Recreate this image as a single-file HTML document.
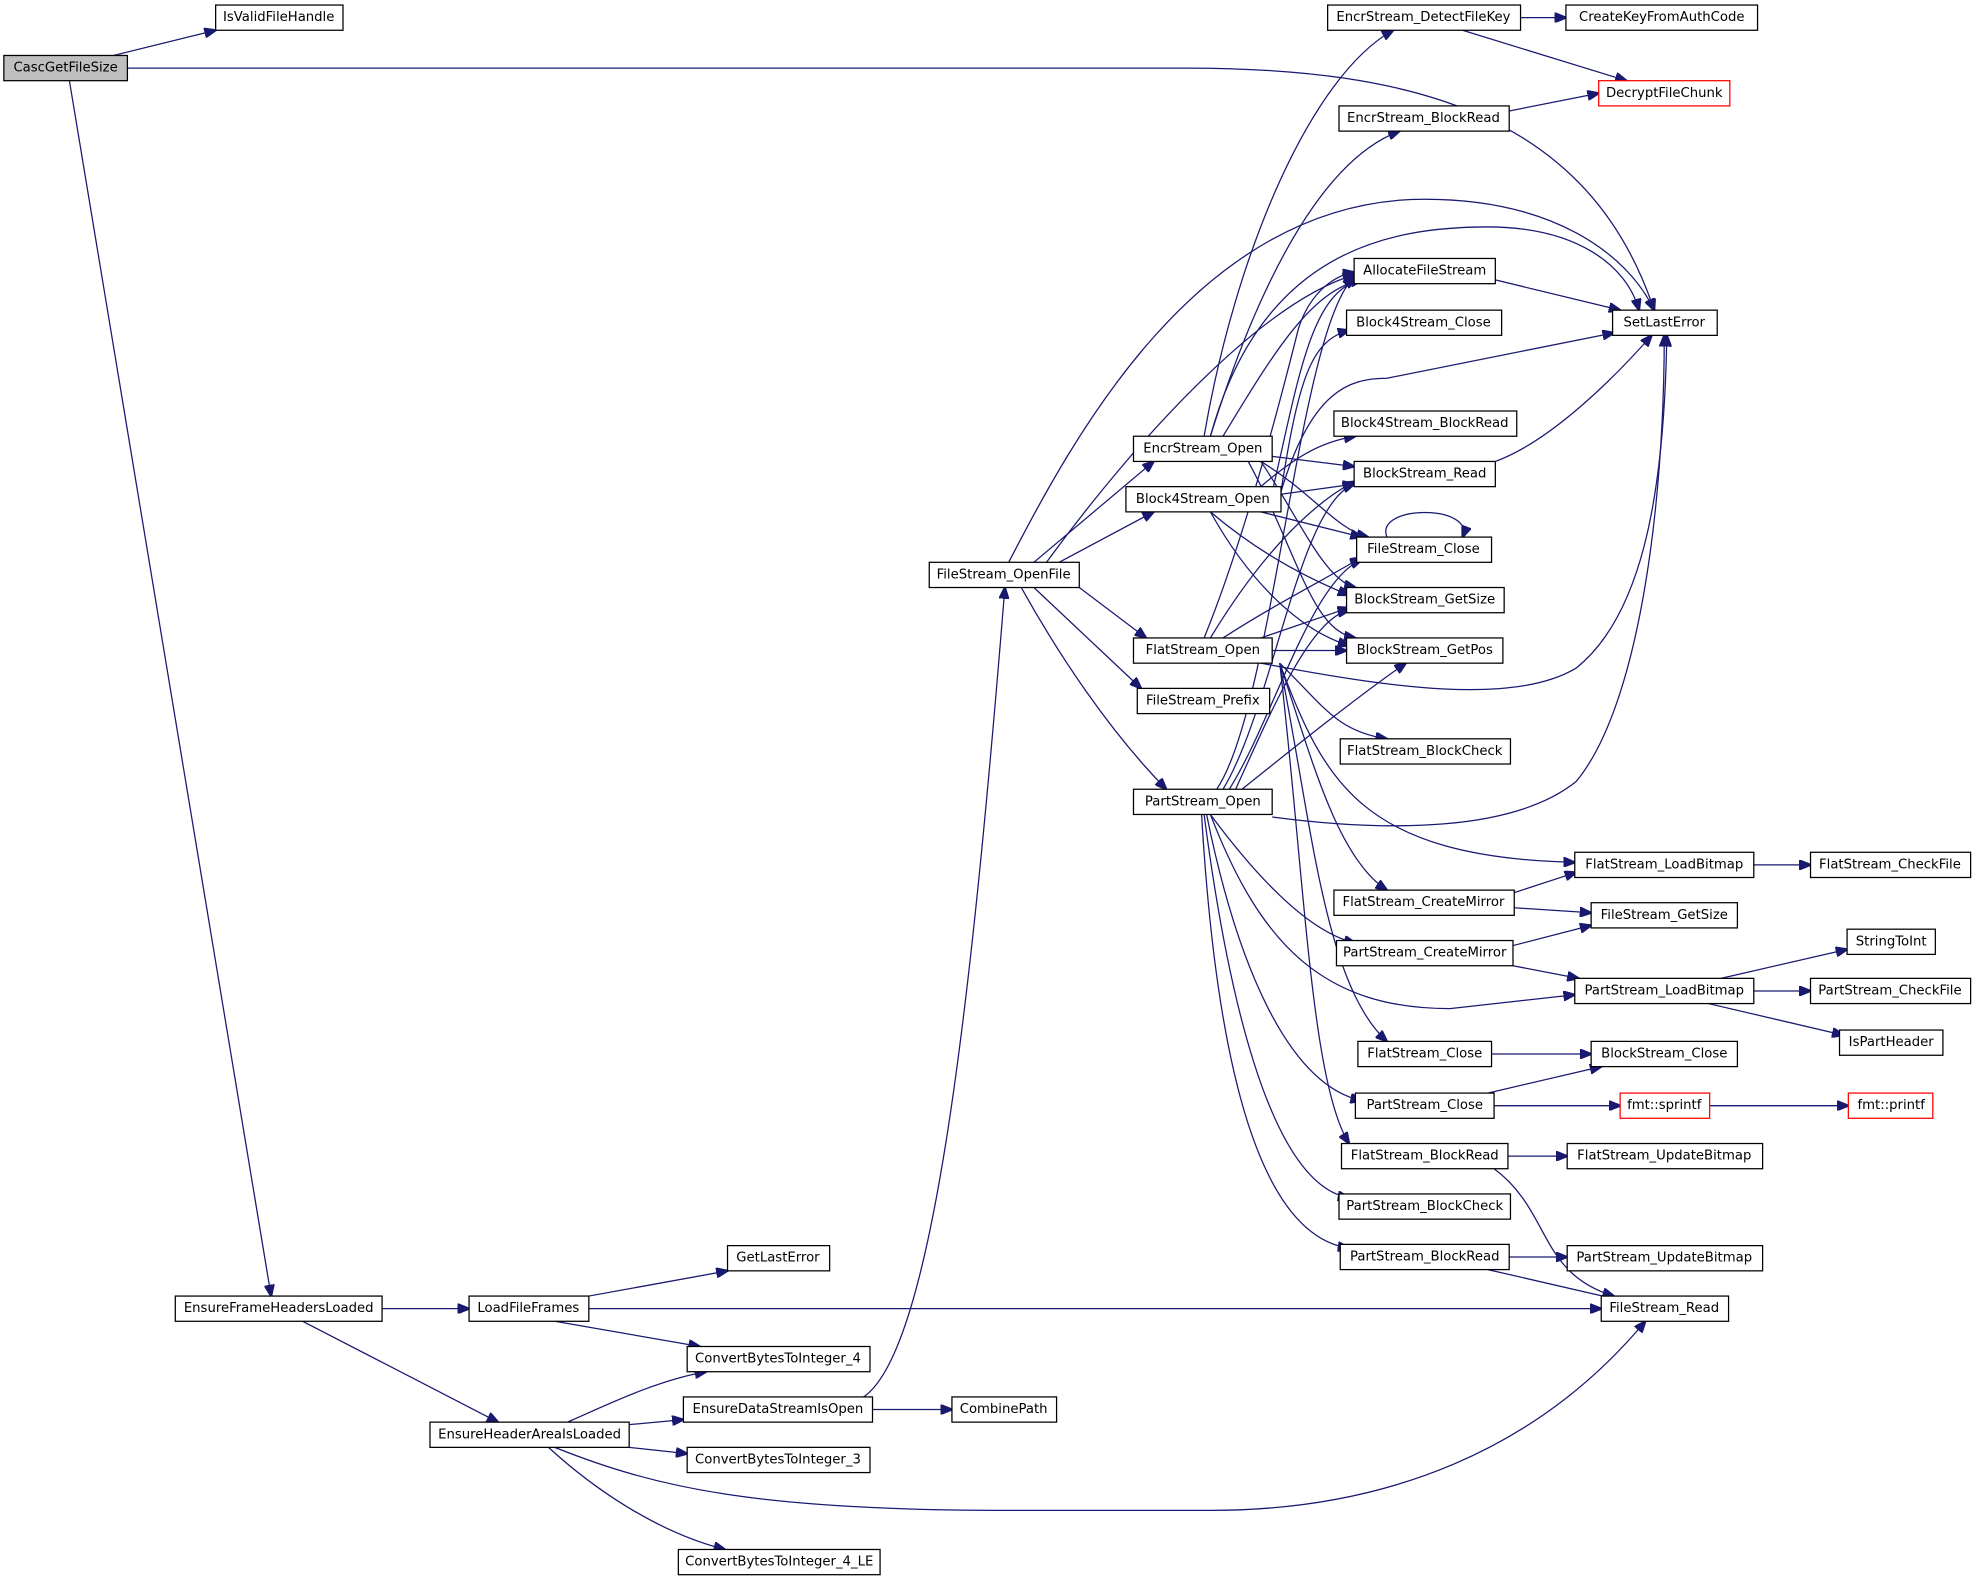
<!DOCTYPE html>
<html><head><meta charset="utf-8"><style>
html,body{margin:0;padding:0;background:#fff;}
svg{display:block;}
text{font-family:"DejaVu Sans","Liberation Sans",sans-serif;font-size:10.5px;fill:#000;text-anchor:middle;dominant-baseline:central;}
.n{fill:#fff;stroke:#000;stroke-width:1;}
.g{fill:#bfbfbf;}
.r{stroke:#f00;}
path{fill:none;stroke:#191970;stroke-width:1;}
</style></head><body>
<svg width="1977" height="1581" viewBox="0 0 1568 1254" xmlns="http://www.w3.org/2000/svg">
<defs><marker id="a" markerWidth="10" markerHeight="8" refX="9" refY="4" orient="auto" markerUnits="userSpaceOnUse"><path d="M0,0 L10,4 L0,8 Z" style="fill:#191970;stroke:#191970"/></marker></defs>
<g marker-end="url(#a)">
<path d="M90,44 L171,24"/>
<path d="M101,54 L940,54 C1120,54 1260,90 1312,246"/>
<path d="M55,64 L215,1028"/>
<path d="M303,1038 L372,1038"/>
<path d="M240,1048 L395,1128"/>
<path d="M467,1028 L577,1008"/>
<path d="M440,1048 L555,1068"/>
<path d="M467,1038 L1270,1038"/>
<path d="M450,1128 C480,1115 520,1095 560,1088"/>
<path d="M499,1130 L542,1126"/>
<path d="M499,1148 L545,1153"/>
<path d="M435,1148 C470,1180 520,1215 575,1229"/>
<path d="M440,1148 C520,1180 600,1198 800,1198 L960,1198 C1100,1198 1220,1150 1305,1048"/>
<path d="M692,1118 L755,1118"/>
<path d="M685,1108 C740,1070 770,800 797,466"/>
<path d="M820,446 L915,366"/>
<path d="M840,446 L915,406"/>
<path d="M856,466 L909,506"/>
<path d="M820,466 L905,546"/>
<path d="M810,466 C840,520 880,580 925,626"/>
<path d="M830,446 C900,350 1000,240 1074,218"/>
<path d="M800,446 C850,350 950,158 1130,158 C1230,158 1290,200 1312,246"/>
<path d="M955,346 C980,200 1040,60 1105,24"/>
<path d="M960,346 C990,250 1040,130 1110,104"/>
<path d="M970,346 C1010,280 1040,230 1080,222"/>
<path d="M960,346 C1000,200 1100,180 1180,180 C1250,180 1290,210 1300,246"/>
<path d="M1009,362 L1074,370"/>
<path d="M1000,366 C1040,390 1060,420 1085,426"/>
<path d="M1000,366 C1030,410 1050,460 1075,466"/>
<path d="M990,366 C1030,440 1040,500 1075,506"/>
<path d="M1206,14 L1242,14"/>
<path d="M1160,24 L1290,64"/>
<path d="M1197,88 L1268,74"/>
<path d="M1186,222 L1285,246"/>
<path d="M1186,366 C1230,350 1280,300 1310,266"/>
<path d="M1016,390 C1030,300 1040,270 1070,262"/>
<path d="M1000,386 C1030,360 1050,350 1075,346"/>
<path d="M1010,386 C1030,300 1040,230 1080,222"/>
<path d="M1016,390 C1040,310 1070,300 1100,300 L1280,264"/>
<path d="M1016,392 L1074,384"/>
<path d="M1000,406 L1080,426"/>
<path d="M960,406 C1000,440 1040,460 1070,472"/>
<path d="M960,406 C990,460 1030,500 1070,512"/>
<path d="M1100,426 C1090,400 1170,400 1160,426"/>
<path d="M955,506 C990,420 1020,300 1030,260 C1040,230 1060,218 1074,216"/>
<path d="M960,506 C1000,440 1040,400 1074,382"/>
<path d="M970,506 C1010,480 1050,460 1080,442"/>
<path d="M1000,506 L1070,482"/>
<path d="M1009,516 L1068,516"/>
<path d="M1000,526 C1100,545 1200,560 1250,530 C1300,490 1320,400 1322,266"/>
<path d="M1015,526 C1050,560 1060,580 1100,586"/>
<path d="M1015,526 C1050,620 1080,680 1249,684"/>
<path d="M1015,526 C1040,600 1060,680 1100,706"/>
<path d="M1015,526 C1040,650 1050,780 1100,826"/>
<path d="M1015,526 C1035,700 1040,860 1070,907"/>
<path d="M965,626 C1010,560 1030,260 1074,220"/>
<path d="M970,626 C1010,560 1030,400 1074,384"/>
<path d="M975,626 C1010,570 1040,460 1080,444"/>
<path d="M980,626 C1010,560 1040,490 1070,484"/>
<path d="M985,626 C1030,590 1080,550 1115,526"/>
<path d="M1009,648 C1100,660 1200,660 1250,620 C1300,560 1320,400 1320,266"/>
<path d="M960,646 C1000,750 1050,800 1150,800 L1249,789"/>
<path d="M960,646 C1000,700 1040,740 1075,748"/>
<path d="M957,646 C980,760 1020,860 1080,873"/>
<path d="M955,646 C975,800 1010,940 1070,950"/>
<path d="M953,646 C965,850 1000,980 1070,990"/>
<path d="M1201,708 L1250,692"/>
<path d="M1201,720 L1262,724"/>
<path d="M1200,750 L1262,734"/>
<path d="M1200,766 L1252,776"/>
<path d="M1391,686 L1436,686"/>
<path d="M1365,776 L1465,753"/>
<path d="M1391,786 L1436,786"/>
<path d="M1355,796 L1462,821"/>
<path d="M1183,836 L1262,836"/>
<path d="M1180,867 L1270,846"/>
<path d="M1185,877 L1285,877"/>
<path d="M1356,877 L1466,877"/>
<path d="M1196,917 L1243,917"/>
<path d="M1185,927 C1230,960 1220,1010 1280,1028"/>
<path d="M1197,997 L1243,997"/>
<path d="M1180,1007 L1280,1030"/>
</g>
<g>
<rect class="n g" x="3" y="44" width="98" height="20"/><text x="52" y="54">CascGetFileSize</text>
<rect class="n" x="171" y="4" width="101" height="20"/><text x="221" y="14">IsValidFileHandle</text>
<rect class="n" x="139" y="1028" width="164" height="20"/><text x="221" y="1038">EnsureFrameHeadersLoaded</text>
<rect class="n" x="372" y="1028" width="95" height="20"/><text x="419" y="1038">LoadFileFrames</text>
<rect class="n" x="577" y="988" width="81" height="20"/><text x="617" y="998">GetLastError</text>
<rect class="n" x="545" y="1068" width="145" height="20"/><text x="617" y="1078">ConvertBytesToInteger_4</text>
<rect class="n" x="341" y="1128" width="158" height="20"/><text x="420" y="1138">EnsureHeaderAreaIsLoaded</text>
<rect class="n" x="542" y="1108" width="150" height="20"/><text x="617" y="1118">EnsureDataStreamIsOpen</text>
<rect class="n" x="545" y="1148" width="145" height="20"/><text x="617" y="1158">ConvertBytesToInteger_3</text>
<rect class="n" x="538" y="1229" width="160" height="20"/><text x="618" y="1239">ConvertBytesToInteger_4_LE</text>
<rect class="n" x="755" y="1108" width="83" height="20"/><text x="796" y="1118">CombinePath</text>
<rect class="n" x="737" y="446" width="119" height="20"/><text x="796" y="456">FileStream_OpenFile</text>
<rect class="n" x="899" y="346" width="110" height="20"/><text x="954" y="356">EncrStream_Open</text>
<rect class="n" x="893" y="386" width="123" height="20"/><text x="954" y="396">Block4Stream_Open</text>
<rect class="n" x="899" y="506" width="110" height="20"/><text x="954" y="516">FlatStream_Open</text>
<rect class="n" x="902" y="546" width="105" height="20"/><text x="954" y="556">FileStream_Prefix</text>
<rect class="n" x="899" y="626" width="110" height="20"/><text x="954" y="636">PartStream_Open</text>
<rect class="n" x="1053" y="4" width="153" height="20"/><text x="1129" y="14">EncrStream_DetectFileKey</text>
<rect class="n" x="1242" y="4" width="152" height="20"/><text x="1318" y="14">CreateKeyFromAuthCode</text>
<rect class="n r" x="1268" y="64" width="104" height="20"/><text x="1320" y="74">DecryptFileChunk</text>
<rect class="n" x="1062" y="84" width="135" height="20"/><text x="1129" y="94">EncrStream_BlockRead</text>
<rect class="n" x="1074" y="205" width="112" height="20"/><text x="1130" y="215">AllocateFileStream</text>
<rect class="n" x="1279" y="246" width="83" height="20"/><text x="1320" y="256">SetLastError</text>
<rect class="n" x="1068" y="246" width="123" height="20"/><text x="1129" y="256">Block4Stream_Close</text>
<rect class="n" x="1058" y="326" width="145" height="20"/><text x="1130" y="336">Block4Stream_BlockRead</text>
<rect class="n" x="1074" y="366" width="112" height="20"/><text x="1130" y="376">BlockStream_Read</text>
<rect class="n" x="1076" y="426" width="107" height="20"/><text x="1129" y="436">FileStream_Close</text>
<rect class="n" x="1068" y="466" width="125" height="20"/><text x="1130" y="476">BlockStream_GetSize</text>
<rect class="n" x="1068" y="506" width="124" height="20"/><text x="1130" y="516">BlockStream_GetPos</text>
<rect class="n" x="1063" y="586" width="135" height="20"/><text x="1130" y="596">FlatStream_BlockCheck</text>
<rect class="n" x="1249" y="676" width="142" height="20"/><text x="1320" y="686">FlatStream_LoadBitmap</text>
<rect class="n" x="1436" y="676" width="127" height="20"/><text x="1499" y="686">FlatStream_CheckFile</text>
<rect class="n" x="1058" y="706" width="143" height="20"/><text x="1129" y="716">FlatStream_CreateMirror</text>
<rect class="n" x="1262" y="716" width="116" height="20"/><text x="1320" y="726">FileStream_GetSize</text>
<rect class="n" x="1060" y="746" width="140" height="20"/><text x="1130" y="756">PartStream_CreateMirror</text>
<rect class="n" x="1465" y="737" width="70" height="20"/><text x="1500" y="747">StringToInt</text>
<rect class="n" x="1249" y="776" width="142" height="20"/><text x="1320" y="786">PartStream_LoadBitmap</text>
<rect class="n" x="1436" y="776" width="127" height="20"/><text x="1499" y="786">PartStream_CheckFile</text>
<rect class="n" x="1459" y="817" width="82" height="20"/><text x="1500" y="827">IsPartHeader</text>
<rect class="n" x="1077" y="826" width="106" height="20"/><text x="1130" y="836">FlatStream_Close</text>
<rect class="n" x="1262" y="826" width="116" height="20"/><text x="1320" y="836">BlockStream_Close</text>
<rect class="n" x="1075" y="867" width="110" height="20"/><text x="1130" y="877">PartStream_Close</text>
<rect class="n r" x="1285" y="867" width="71" height="20"/><text x="1320" y="877">fmt::sprintf</text>
<rect class="n r" x="1466" y="867" width="67" height="20"/><text x="1500" y="877">fmt::printf</text>
<rect class="n" x="1064" y="907" width="132" height="20"/><text x="1130" y="917">FlatStream_BlockRead</text>
<rect class="n" x="1243" y="907" width="155" height="20"/><text x="1320" y="917">FlatStream_UpdateBitmap</text>
<rect class="n" x="1062" y="947" width="136" height="20"/><text x="1130" y="957">PartStream_BlockCheck</text>
<rect class="n" x="1063" y="987" width="134" height="20"/><text x="1130" y="997">PartStream_BlockRead</text>
<rect class="n" x="1243" y="988" width="155" height="20"/><text x="1320" y="998">PartStream_UpdateBitmap</text>
<rect class="n" x="1270" y="1028" width="101" height="20"/><text x="1320" y="1038">FileStream_Read</text>
</g>
</svg>
</body></html>
